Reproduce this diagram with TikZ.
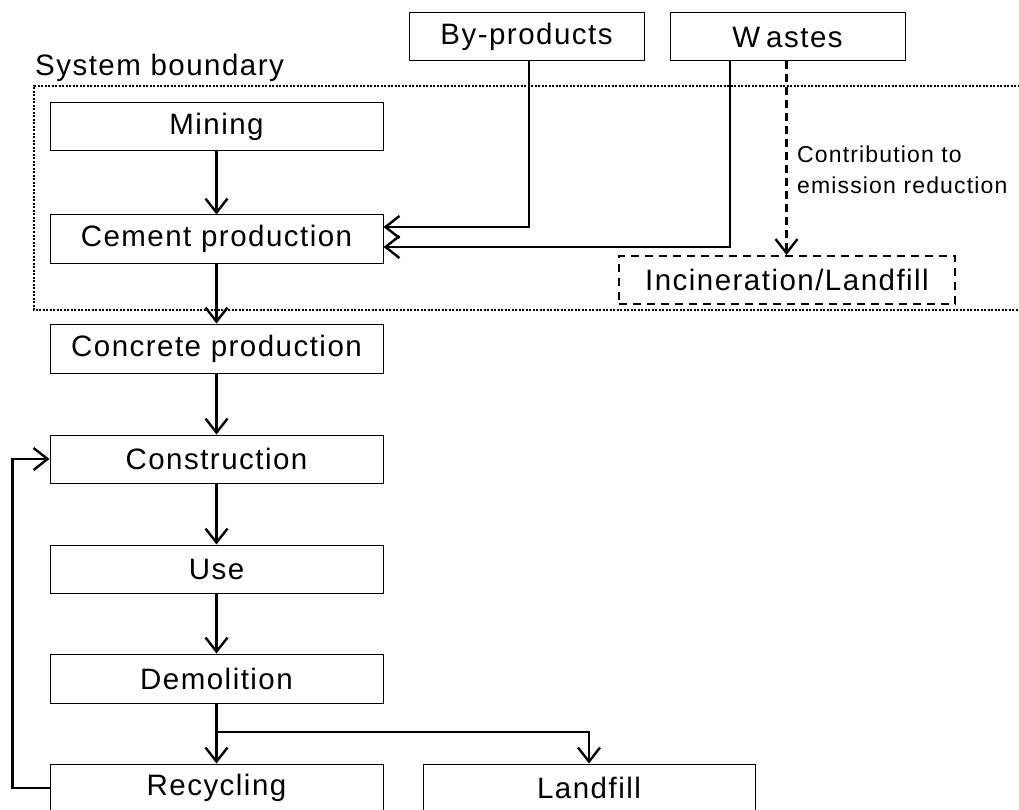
\documentclass[tikz,border=0pt]{standalone}
\usepackage{fontspec}
\setmainfont[LetterSpace=5]{Liberation Sans}
\usetikzlibrary{arrows.meta}
\begin{document}
\begin{tikzpicture}[x=1pt,y=-1pt,
  box/.style={draw,line width=1pt,minimum width=333pt,minimum height=48pt,inner sep=0pt,font=\fontsize{29.5}{32}\selectfont},
  sbox/.style={box,minimum width=235pt},
  arr/.style={line width=2.6pt,-{Straight Barb[length=14pt,width=22pt,line width=2.4pt]}},
  ln/.style={line width=2.6pt}]
\useasboundingbox (0,0) rectangle (1019,810);
% system boundary
\draw[line width=2pt,dash pattern=on 2pt off 1.5pt] (1030,86) -- (34,86) -- (34,310) -- (1030,310);
\node[anchor=base west,inner sep=0pt,font=\fontsize{29.5}{32}\selectfont] (sb) at (35,76) {System boundary};
% nodes
\node[sbox] (byp) at (526.5,37) {By-products};
\node[sbox] (wst) at (787.5,37) {W\kern6pt astes};
\node[box] (mining) at (216.5,127) {Mining};
\node[box] (cement) at (216.5,239) {Cement production};
\node[box,minimum width=336pt,dash pattern=on 8pt off 6pt,line width=2pt] (incin) at (787,280) {Incineration/Landfill};
\node[box,minimum height=49pt] (concrete) at (216.5,348.5) {Concrete production};
\node[box] (constr) at (216.5,459) {Construction};
\node[box] (use) at (216.5,569) {Use};
\node[box,minimum height=49pt] (demol) at (216.5,678.5) {Demolition};
\node[box] (recyc) at (216.5,788) {Recycling};
\node[box,minimum width=332pt] (landfill) at (589,788) {Landfill};
\node[anchor=base west,inner sep=0pt,align=left,font=\fontsize{23}{31}\selectfont] (contrib) at (797,194) {Contribution to\\emission reduction};
% connectors
\draw[arr] (mining.south) -- (cement.north);
\draw[arr] ([xshift=2.5pt]byp.south) |- ([yshift=12pt]cement.east);
\draw[arr] ([xshift=-57.5pt]wst.south) |- ([yshift=-8pt]cement.east);
\draw[arr,line width=2.2pt,dash pattern=on 8pt off 5pt] ([xshift=-1pt]wst.south) -- ([xshift=-1pt]wst.south |- incin.north);
\draw[arr] (cement.south) -- (concrete.north);
\draw[arr] (concrete.south) -- (constr.north);
\draw[arr] (constr.south) -- (use.north);
\draw[arr] (use.south) -- (demol.north);
\draw[arr] (demol.south) -- (recyc.north);
\coordinate (br) at (216.5,732);
\draw[arr] (br) -| (landfill.north);
\draw[arr] (recyc.west) -- ++(-37pt,0) |- (constr.west);
\end{tikzpicture}
\end{document}
